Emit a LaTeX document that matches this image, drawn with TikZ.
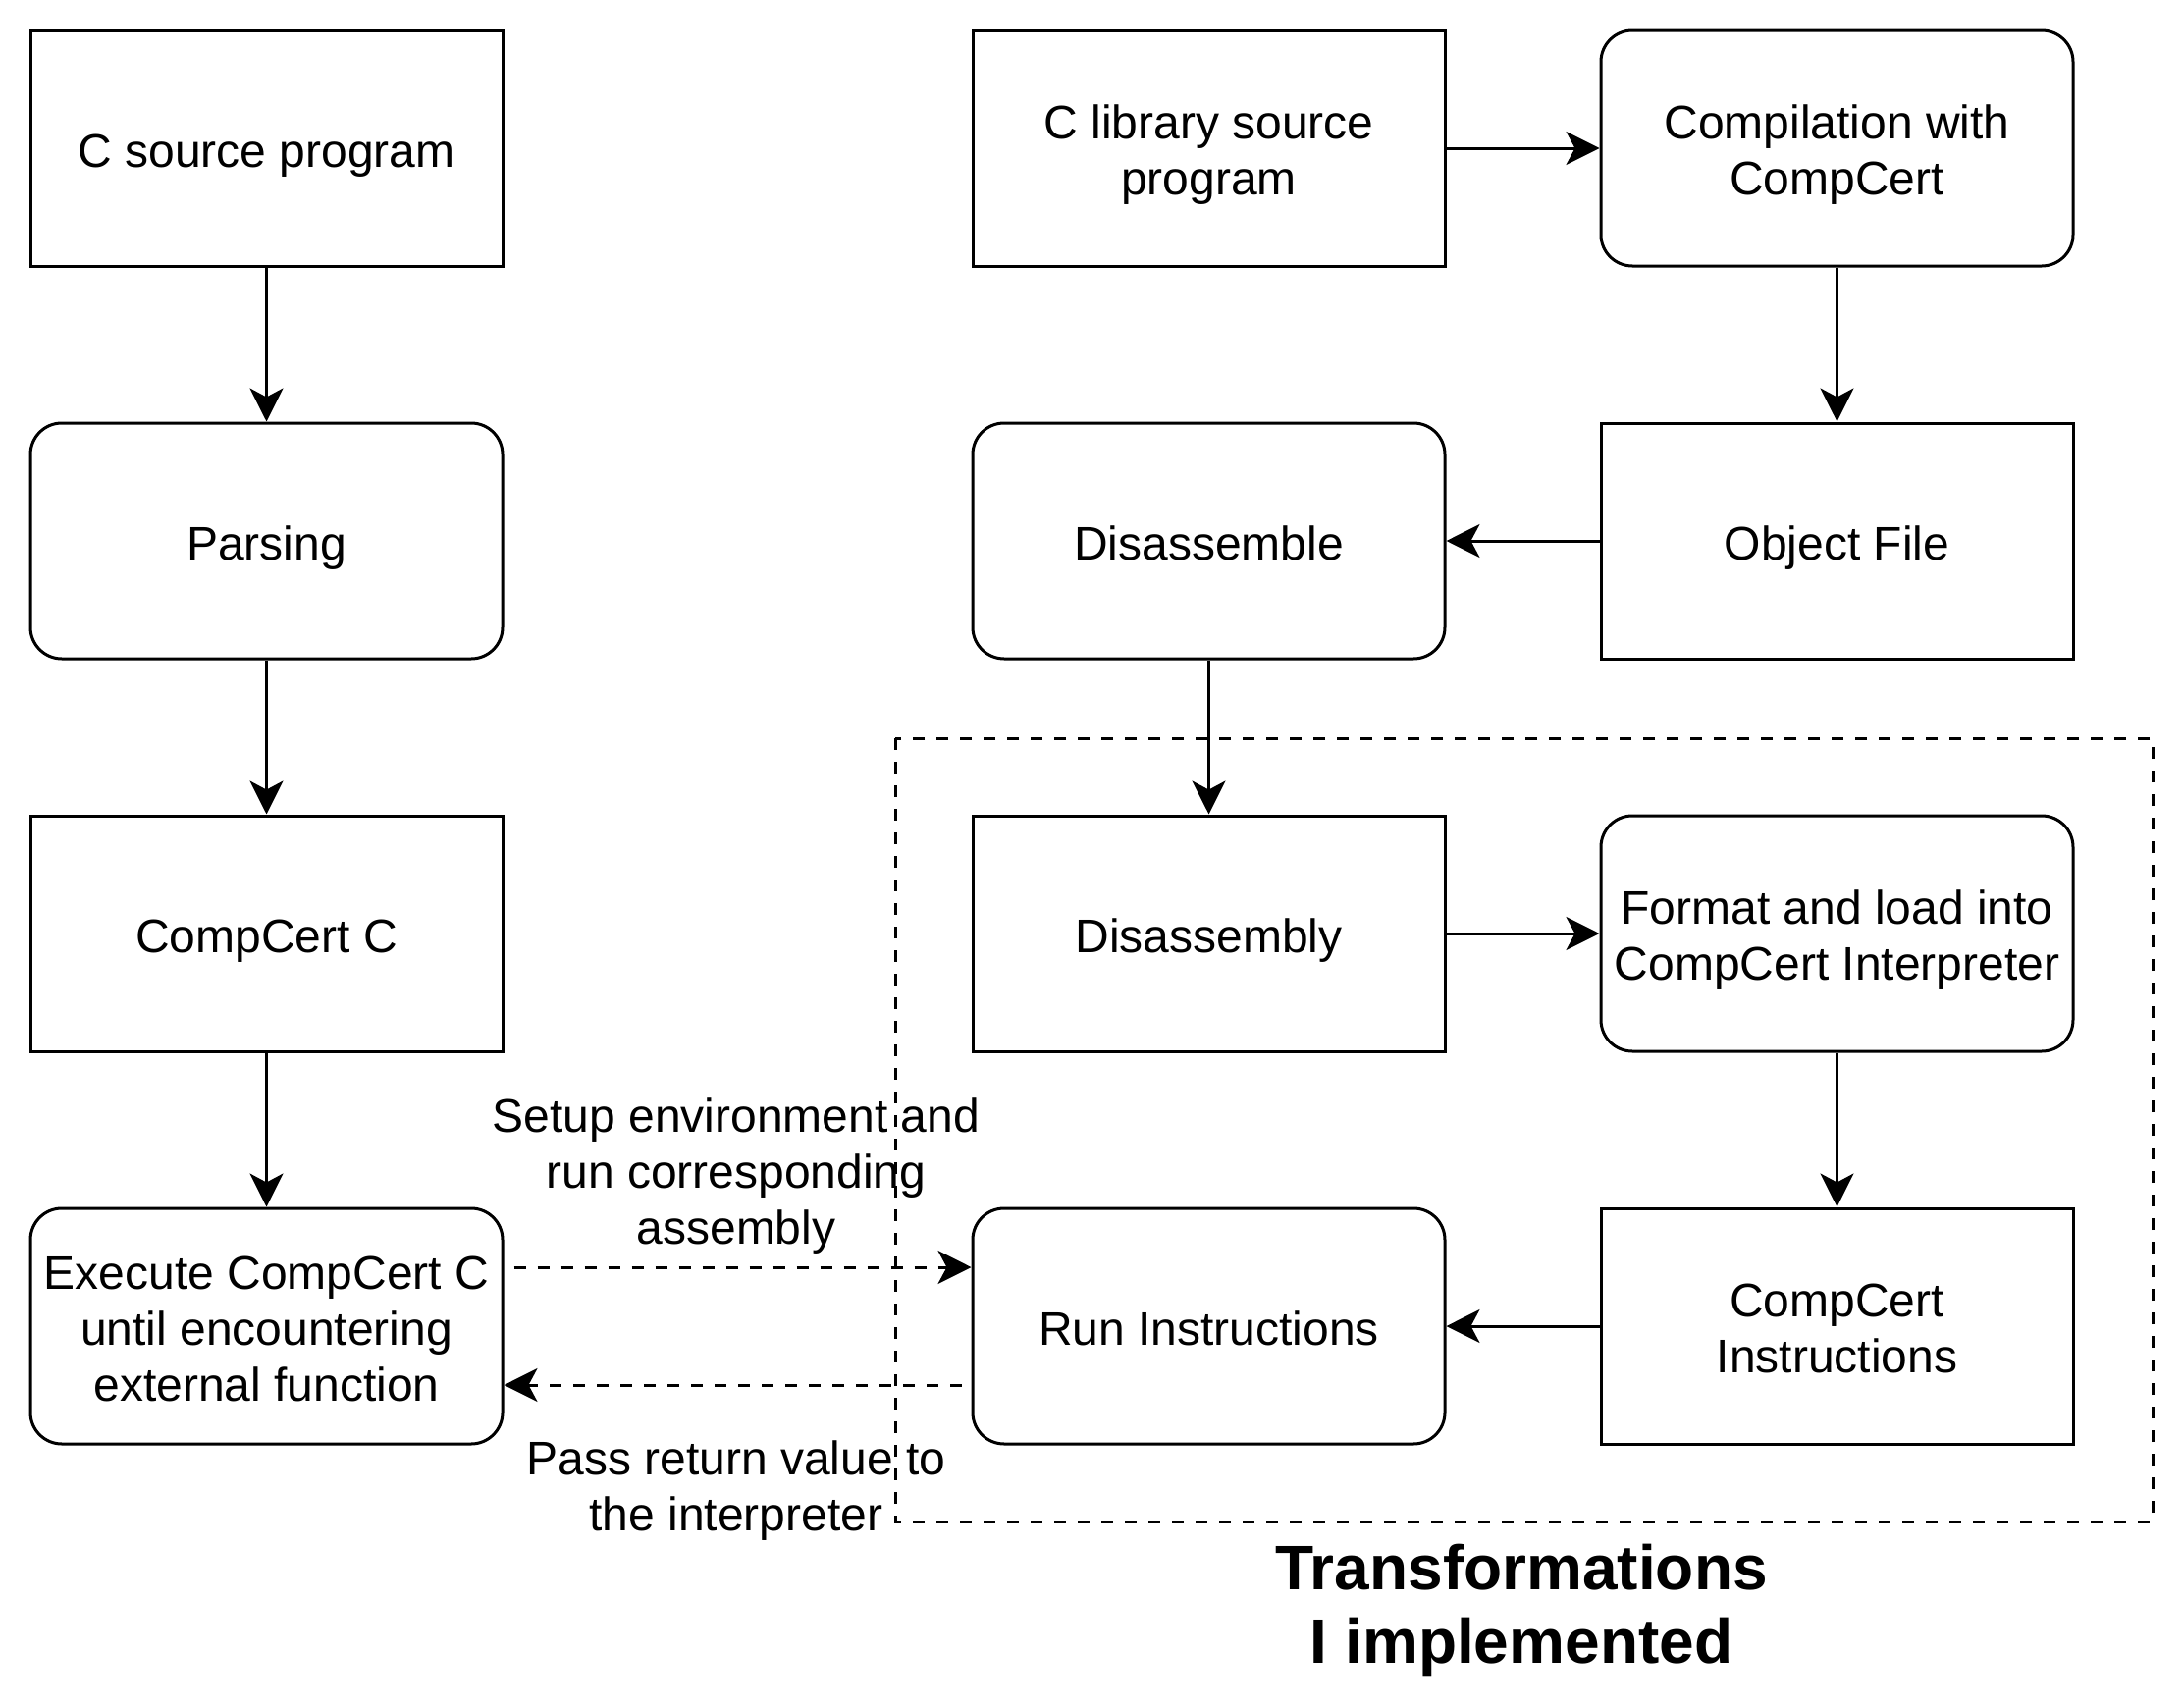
\documentclass[tikz,border=0pt]{standalone}
\usepackage{fontspec}
\setmainfont{Liberation Sans}
\usetikzlibrary{arrows.meta}
\newcommand\myMh{\rule{0pt}{24.5pt}}
\newcommand\myMd{\rule[-5.1pt]{0pt}{5.1pt}}
\newcommand\myTh{\rule{0pt}{31pt}}
\newcommand\myTd{\rule[-6.8pt]{0pt}{6.8pt}}
\begin{document}
\begin{tikzpicture}[x=0.5pt,y=-0.5pt,
  box/.style={draw, line width=1.5pt, minimum width=240.5pt, minimum height=120pt, align=center, font=\fontsize{24}{28.5}\selectfont, inner sep=0pt},
  rbox/.style={box, rounded corners=16pt},
  arr/.style={line width=1.5pt, -{Stealth[length=17pt,width=17pt,inset=4.5pt]}},
  darr/.style={arr, dash pattern=on 6pt off 6pt},
  dashbox/.style={line width=1.5pt, dash pattern=on 6pt off 6pt},
  lbl/.style={align=center, font=\fontsize{24}{28.5}\selectfont, inner sep=0pt}]
\useasboundingbox (0,0) rectangle (2224,1740);
% left column
\node[box]  (src)   at (271.5,151)  {\myMh C source program\myMd};
\node[rbox] (parse) at (271.5,551)  {\myMh Parsing\myMd};
\node[box]  (ccc)   at (271.5,951)  {\myMh CompCert C\myMd};
\node[rbox] (exec)  at (271.5,1351) {\myMh Execute CompCert C\\until encountering\\external function\myMd};
% middle column
\node[box]  (lib)   at (1231.5,151)  {\myMh C library source\\program\myMd};
\node[rbox] (disa)  at (1231.5,551)  {\myMh Disassemble\myMd};
\node[box]  (disy)  at (1231.5,951)  {\myMh Disassembly\myMd};
\node[rbox] (run)   at (1231.5,1351) {\myMh Run Instructions\myMd};
% right column
\node[rbox] (comp)  at (1871.5,151)  {\myMh Compilation with\\CompCert\myMd};
\node[box]  (obj)   at (1871.5,551)  {\myMh Object File\myMd};
\node[rbox] (fmt)   at (1871.5,951)  {\myMh Format and load into\\CompCert Interpreter\myMd};
\node[box]  (ins)   at (1871.5,1351) {\myMh CompCert\\Instructions\myMd};
% dashed region
\draw[dashbox] (912,752) rectangle (2193,1550);
\node[align=center, inner sep=0pt, font=\fontsize{32}{37.5}\selectfont\bfseries] (title) at (1550,1633) {\myTh Transformations\\I implemented\myTd};
% arrows
\draw[arr] (src) -- (parse);
\draw[arr] (parse) -- (ccc);
\draw[arr] (ccc) -- (exec);
\draw[arr] (lib) -- (comp);
\draw[arr] (comp) -- (obj);
\draw[arr] (obj) -- (disa);
\draw[arr] (disa) -- (disy);
\draw[arr] (disy) -- (fmt);
\draw[arr] (fmt) -- (ins);
\draw[arr] (ins) -- (run);
\draw[darr, shorten <=5pt] ([yshift=30pt]exec.east) -- ([yshift=30pt]run.west);
\draw[darr, shorten <=5pt] ([yshift=-30pt]run.west) -- ([yshift=-30pt]exec.east);
% labels
\node[lbl] (l1) at (750,1198) {Setup environment and\\run corresponding\\assembly};
\node[lbl] (l2) at (750,1519) {Pass return value to\\the interpreter};
\end{tikzpicture}
\end{document}
